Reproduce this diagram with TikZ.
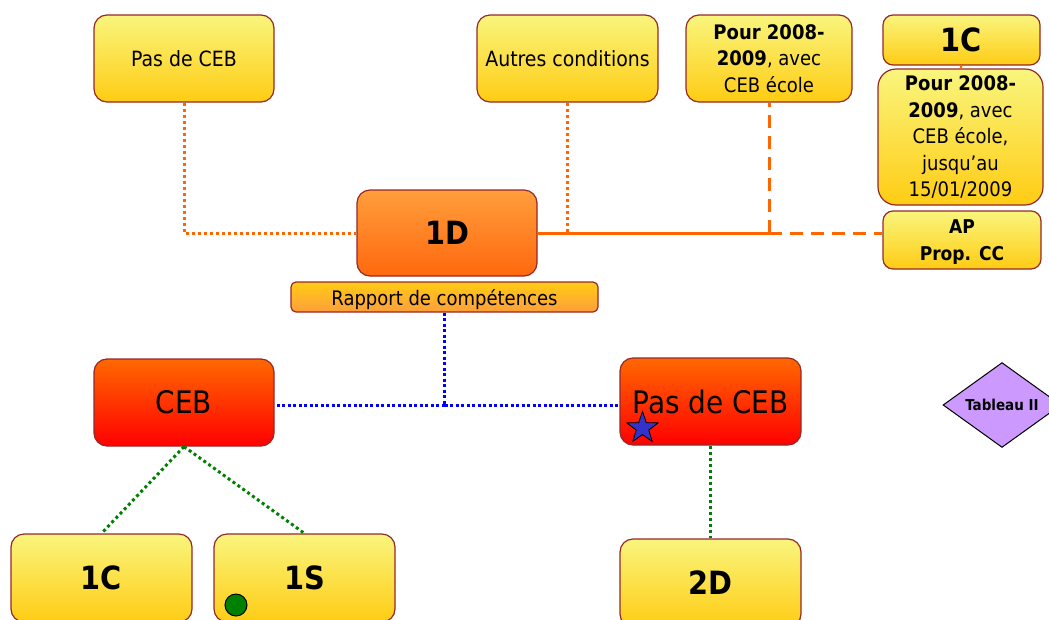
\documentclass[tikz,border=0pt]{standalone}
\usepackage{fontspec}
\setmainfont{DejaVu Sans Condensed}
\usetikzlibrary{shapes.geometric}
\definecolor{ytop}{RGB}{249,245,125}
\definecolor{ybot}{RGB}{255,204,20}
\definecolor{otop}{RGB}{255,158,60}
\definecolor{obot}{RGB}{255,104,14}
\definecolor{rtop}{RGB}{255,104,0}
\definecolor{rbot}{RGB}{255,0,0}
\definecolor{bord}{RGB}{150,40,40}
\definecolor{oline}{RGB}{255,102,0}
\definecolor{gline}{RGB}{0,128,0}
\definecolor{bline}{RGB}{0,0,255}
\definecolor{purp}{RGB}{204,153,255}
\definecolor{starblue}{RGB}{51,51,204}
\tikzset{
  box/.style={draw=bord, line width=1.2pt, rounded corners=13pt, align=center, inner sep=2pt},
  ybox/.style={box, top color=ytop, bottom color=ybot},
  obox/.style={box, top color=otop, bottom color=obot},
  rbox/.style={box, top color=rtop, bottom color=rbot},
  normal/.style={font=\fontsize{21}{26}\selectfont},
  small/.style={font=\fontsize{20}{26.5}\selectfont},
  big/.style={font=\fontsize{31}{36}\selectfont},
  bigb/.style={font=\fontsize{32}{36}\selectfont\bfseries},
  odot/.style={oline, line width=3pt, dash pattern=on 3pt off 3pt},
  osolid/.style={oline, line width=3pt},
  odash/.style={oline, line width=3pt, dash pattern=on 13pt off 8pt},
  bdot/.style={bline, line width=3pt, dash pattern=on 3pt off 2.5pt},
  gdot/.style={gline, line width=3pt, dash pattern=on 3pt off 3pt},
}
\begin{document}
\begin{tikzpicture}[x=1pt,y=-1pt]
\useasboundingbox (0,0) rectangle (1049,619);
% nodes
\node[ybox, normal, minimum width=180pt, minimum height=87pt] (pas1) at (184,58.5) {Pas de CEB};
\node[ybox, normal, minimum width=181pt, minimum height=87pt] (autres) at (567.5,58.5) {Autres conditions};
\node[ybox, small, minimum width=166pt, minimum height=87pt] (pour1) at (769,58.5) {\textbf{Pour 2008-}\\\textbf{2009}, avec\\CEB école};
\node[ybox, bigb, minimum width=157pt, minimum height=50pt, rounded corners=10pt] (c1top) at (961.5,40) {1C};
\node[ybox, small, minimum width=165pt, minimum height=136pt, rounded corners=18pt] (pour2) at (960.5,137) {\textbf{Pour 2008-}\\\textbf{2009}, avec\\CEB école,\\jusqu’au\\15/01/2009};
\node[ybox, font=\fontsize{19}{27}\selectfont\bfseries, text depth=0pt, minimum width=158pt, minimum height=58pt, rounded corners=10pt] (ap) at (962,240) {AP\\Prop. CC};
\node[obox, bigb, minimum width=180pt, minimum height=86pt] (d1) at (447,233) {1D};
\node[box, top color=ybot, bottom color=otop, font=\fontsize{20}{24}\selectfont, text depth=0pt, minimum width=307pt, minimum height=30pt, rounded corners=5pt] (rapport) at (444.5,297) {Rapport de compétences};
\node[rbox, big, minimum width=180pt, minimum height=87pt] (ceb) at (184,402.5) {CEB};
\node[rbox, big, minimum width=181pt, minimum height=87pt] (pas2) at (710.5,401.5) {Pas de CEB};
\node[diamond, draw=black, line width=1pt, fill=purp, minimum width=118pt, minimum height=82pt, inner sep=0pt, font=\fontsize{15}{18}\selectfont\bfseries] (tab) at (1002,405) {Tableau II};
\node[ybox, bigb, minimum width=181pt, minimum height=88pt] (c1bot) at (101.5,578) {1C};
\node[ybox, bigb, minimum width=181pt, minimum height=88pt] (s1) at (304.5,578) {1S};
\node[ybox, bigb, minimum width=181pt, minimum height=88pt] (d2) at (710.5,583) {2D};
% markers
\node[circle, draw=black, line width=1pt, fill=gline, minimum size=22pt, inner sep=0pt] (dot) at (236,605) {};
\node[star, star points=5, star point ratio=2.5, draw=black, line width=0.8pt, fill=starblue, minimum size=33pt, inner sep=0pt] (st) at (642.5,428) {};
% connectors
\draw[odot] (pas1.south) |- (d1.west);
\coordinate (j) at (pour1.south |- d1.east);
\draw[odot] (autres.south) -- (autres.south |- d1.east);
\draw[osolid] (d1.east) -- (j);
\draw[odash] (j) -- (pour1.south);
\draw[odash] (j) -- (j -| ap.west);
\draw[osolid, line width=2pt] (c1top.south) -- (pour2.north);
\coordinate (b) at (rapport.south |- 0,405);
\draw[bdot] (rapport.south) -- (b);
\draw[bdot] (b) -- (b -| ceb.east);
\draw[bdot] (b) -- (b -| pas2.west);
\draw[gdot] (ceb.south) -- (c1bot.north);
\draw[gdot] (ceb.south) -- (s1.north);
\draw[gdot] (pas2.south) -- (d2.north);
\end{tikzpicture}
\end{document}
